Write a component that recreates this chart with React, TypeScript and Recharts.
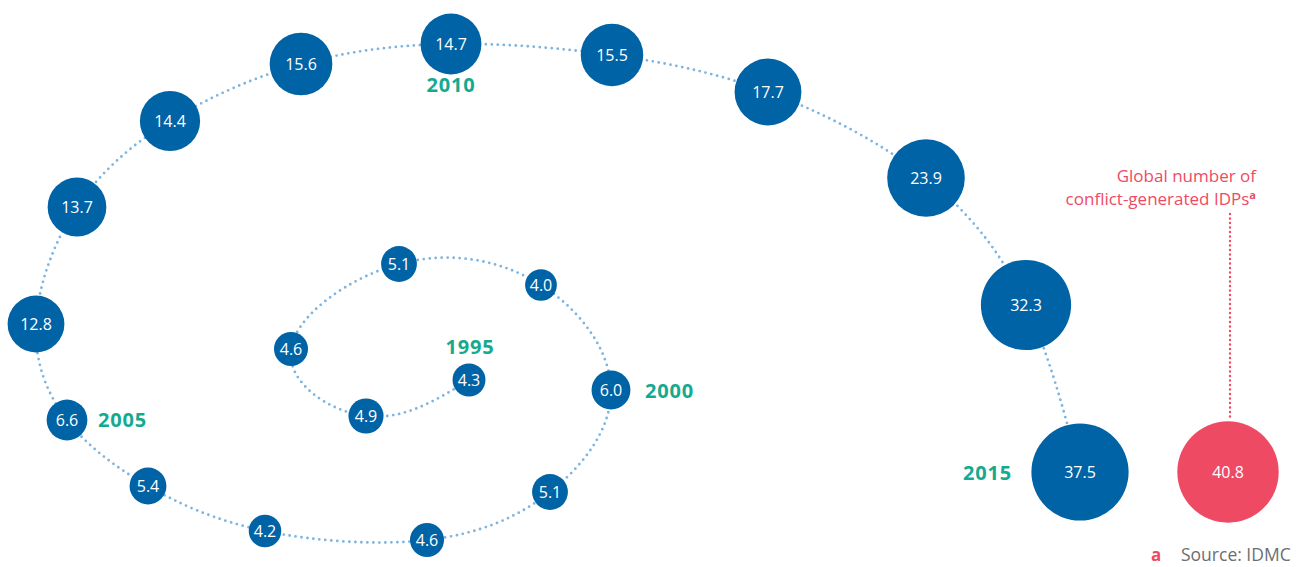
import React from 'react';
import { ScatterChart, Scatter, XAxis, YAxis, ZAxis, Customized } from 'recharts';

const BLUE = '#0063a6';
const PINK = '#ef4a63';
const TEAL = '#15aa8f';
const DOTS = '#7db4e0';
const FONT = '"Open Sans", Lato, sans-serif';

// IDPs in millions, one per year
const years = [
  1995, 1996, 1997, 1998, 1999, 2000, 2001, 2002, 2003, 2004, 2005,
  2006, 2007, 2008, 2009, 2010, 2011, 2012, 2013, 2014, 2015,
];
const idps = [
  4.3, 4.9, 4.6, 5.1, 4.0, 6.0, 5.1, 4.6, 4.2, 5.4, 6.6,
  12.8, 13.7, 14.4, 15.6, 14.7, 15.5, 17.7, 23.9, 32.3, 37.5,
];
// where each year sits on the spiral (chart units: 0..1298 across, 0..567 down)
const spiralX = [
  469, 366, 291, 399, 541, 611, 550, 427, 265, 148, 67,
  36, 77, 170, 301, 451, 612, 768, 926, 1026, 1080,
];
const spiralY = [
  380, 416, 349, 264, 285, 390, 492, 540, 531, 486, 420,
  324, 207, 121, 64, 44, 55, 92, 178, 305, 472,
];

const latestYear = 2016;
const latestIdps = 40.8;
const latestX = 1228;
const latestY = 472;

const milestoneYears = [1995, 2000, 2005, 2010, 2015];

const spiralData = years.map((year, i) => ({ year, v: idps[i], x: spiralX[i], y: spiralY[i] }));
const latestData = [{ year: latestYear, v: latestIdps, x: latestX, y: latestY }];
const maxValue = Math.max(...idps, latestIdps);

// where the green year label goes relative to its bubble
const yearLabelPos: Record<number, { dx: number; dy: number; anchor: 'start' | 'middle' | 'end' }> = {
  1995: { dx: 1, dy: -26, anchor: 'middle' },
  2000: { dx: 34, dy: 8, anchor: 'start' },
  2005: { dx: 31, dy: 7, anchor: 'start' },
  2010: { dx: 0, dy: 48, anchor: 'middle' },
  2015: { dx: -68, dy: 8, anchor: 'end' },
};

const radiusOf = (p: any) => (p.width ? p.width / 2 : Math.sqrt((p.size || 0) / Math.PI));

const Bubble = (props: any) => {
  const { cx, cy, payload, fill } = props;
  const r = radiusOf(props);
  const pos = milestoneYears.includes(payload.year) ? yearLabelPos[payload.year] : null;
  return (
    <g>
      <circle cx={cx} cy={cy} r={r} fill={fill} />
      <text
        x={cx}
        y={cy}
        dy="0.36em"
        textAnchor="middle"
        fill="#fff"
        fontSize={16}
        fontFamily={FONT}
      >
        {payload.v.toFixed(1)}
      </text>
      {pos && (
        <text
          x={cx + pos.dx}
          y={cy + pos.dy}
          textAnchor={pos.anchor}
          fill={TEAL}
          fontSize={20}
          fontWeight={700}
          letterSpacing={0.8}
          fontFamily={FONT}
        >
          {payload.year}
        </text>
      )}
    </g>
  );
};

const LatestBubble = (props: any) => {
  const { cx, cy } = props;
  const r = radiusOf(props);
  return (
    <g>
      <line
        x1={cx + 2}
        x2={cx + 2}
        y1={cy - 258}
        y2={cy - r - 2}
        stroke={PINK}
        strokeWidth={2.4}
        strokeDasharray="0 4.5"
        strokeLinecap="round"
      />
      <text x={cx + 28} y={cy - 290} textAnchor="end" fill={PINK} fontSize={17} fontFamily={FONT}>
        Global number of
      </text>
      <text x={cx + 28} y={cy - 267} textAnchor="end" fill={PINK} fontSize={17} fontFamily={FONT}>
        conflict-generated IDPs
        <tspan dy={-6} fontSize={11} fontWeight={700}>a</tspan>
      </text>
      <Bubble {...props} />
    </g>
  );
};

const Footnote = () => (
  <g>
    <text x={1151} y={561} fill={PINK} fontSize={17} fontWeight={700} fontFamily={FONT}>
      a
    </text>
    <text x={1181} y={561} fill="#6d6e71" fontSize={17.5} fontFamily={FONT}>
      Source: IDMC
    </text>
  </g>
);

export default function App() {
  return (
    <div style={{ position: 'absolute', left: 0, top: 0, width: 1298, height: 567, background: '#fff' }}>
      <ScatterChart width={1298} height={567} margin={{ top: 0, right: 0, bottom: 0, left: 0 }}>
        <XAxis type="number" dataKey="x" domain={[0, 1298]} hide />
        <YAxis type="number" dataKey="y" domain={[0, 567]} reversed hide />
        <ZAxis type="number" dataKey="v" domain={[0, maxValue]} range={[0, Math.PI * 63 * maxValue]} />
        <Scatter
          data={spiralData}
          fill={BLUE}
          line={{ stroke: DOTS, strokeWidth: 2.8, strokeDasharray: '0 6', strokeLinecap: 'round' }}
          lineType="joint"
          lineJointType="natural"
          shape={Bubble}
          isAnimationActive={false}
        />
        <Scatter data={latestData} fill={PINK} shape={LatestBubble} isAnimationActive={false} />
        <Customized component={<Footnote />} />
      </ScatterChart>
    </div>
  );
}
